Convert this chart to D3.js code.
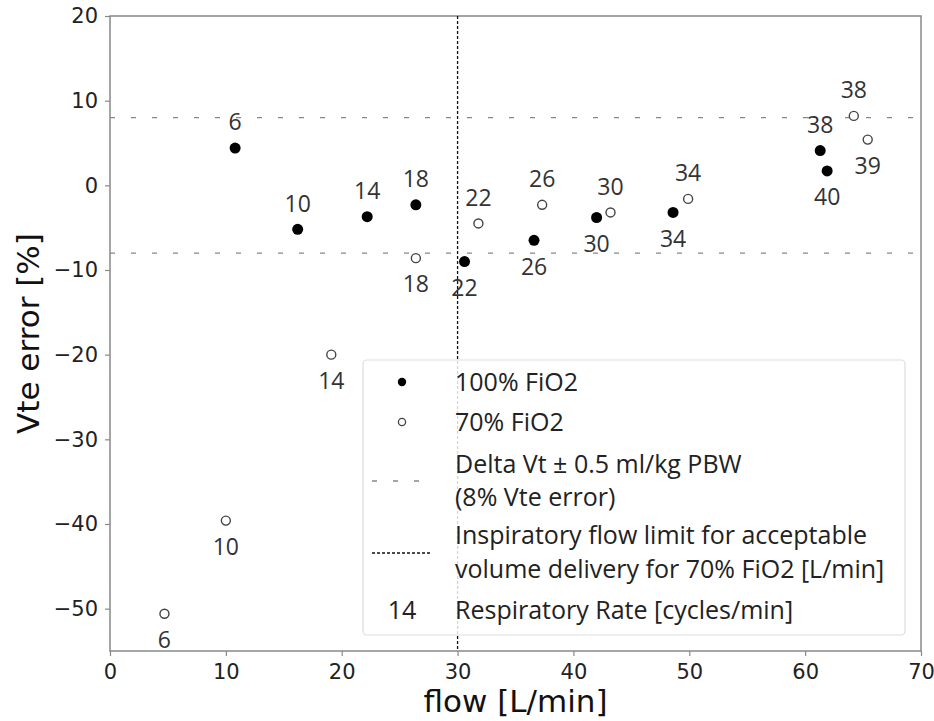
<!DOCTYPE html>
<html>
<head>
<meta charset="utf-8">
<script src="https://cdn.jsdelivr.net/npm/d3@7"></script>
<style>
  body { margin: 0; background: #fff; }
  svg { display: block; }
</style>
</head>
<body>
<div id="chart"></div>
<script>
// data
const rr100   = [6, 10, 14, 18, 22, 26, 30, 34, 38, 40];
const flow100 = [10.8, 16.2, 22.2, 26.4, 30.6, 36.6, 42.0, 48.6, 61.3, 61.9];
const err100  = [4.4, -5.2, -3.7, -2.3, -9.0, -6.5, -3.8, -3.2, 4.1, 1.7];
const side100 = [1, 1, 1, 1, -1, -1, -1, -1, 1, -1];   // 1 = label above point

const rr70   = [6, 10, 14, 18, 22, 26, 30, 34, 38, 39];
const flow70 = [4.7, 10.0, 19.1, 26.4, 31.8, 37.3, 43.2, 49.9, 64.2, 65.4];
const err70  = [-50.6, -39.6, -20.0, -8.6, -4.5, -2.3, -3.2, -1.6, 8.2, 5.4];
const side70 = [-1, -1, -1, -1, 1, 1, 1, 1, 1, -1];

const errLimit = 8;        // +/- 8 % Vte error
const flowLimit = 30;      // L/min
const xTicks = [0, 10, 20, 30, 40, 50, 60, 70];
const yTicks = [-50, -40, -30, -20, -10, 0, 10, 20];

const W = 934, H = 721;
const margin = {top: 16, right: 13, bottom: 70, left: 110};

const svg = d3.select("#chart").append("svg")
  .attr("width", W).attr("height", H);

const x = d3.scaleLinear().domain([0, 70]).range([margin.left, W - margin.right]);
const y = d3.scaleLinear().domain([-55, 20]).range([H - margin.bottom, margin.top]);

const tickFont = "'DejaVu Sans', sans-serif";
const txtFont = "'Open Sans', sans-serif";

// axes
const xAxis = svg.append("g")
  .attr("transform", `translate(0,${y(-55)})`)
  .call(d3.axisBottom(x).tickValues(xTicks).tickSize(5).tickPadding(8));
const yAxis = svg.append("g")
  .attr("transform", `translate(${x(0)},0)`)
  .call(d3.axisLeft(y).tickValues(yTicks).tickSize(5).tickPadding(7)
    .tickFormat(d => d < 0 ? "\u2212" + Math.abs(d) : d));

[xAxis, yAxis].forEach(a => {
  a.select(".domain").remove();
  a.selectAll(".tick line").attr("stroke", "#888").attr("stroke-width", 1.2);
  a.selectAll(".tick text")
    .attr("fill", "#222")
    .style("font-family", tickFont)
    .style("font-size", "21px");
});

// frame
svg.append("rect")
  .attr("x", x(0)).attr("y", y(20))
  .attr("width", x(70) - x(0)).attr("height", y(-55) - y(20))
  .attr("fill", "none").attr("stroke", "#888").attr("stroke-width", 1.5);

// axis labels
svg.append("text")
  .attr("x", (x(0) + x(70)) / 2).attr("y", 712)
  .attr("text-anchor", "middle")
  .style("font-family", tickFont).style("font-size", "31px").attr("fill", "#111")
  .text("flow [L/min]");

svg.append("text")
  .attr("transform", `translate(39,${(y(20) + y(-55)) / 2}) rotate(-90)`)
  .attr("text-anchor", "middle")
  .style("font-family", tickFont).style("font-size", "31px").attr("fill", "#111")
  .text("Vte error [%]");

// +/- 8 % lines
svg.selectAll(".hlim")
  .data([errLimit, -errLimit])
  .join("line")
  .attr("class", "hlim")
  .attr("x1", x(0)).attr("x2", x(70))
  .attr("y1", d => y(d)).attr("y2", d => y(d))
  .attr("stroke", "#888").attr("stroke-width", 1.3)
  .attr("stroke-dasharray", "5,16");

// flow limit line
svg.append("line")
  .attr("x1", x(flowLimit)).attr("x2", x(flowLimit))
  .attr("y1", y(20)).attr("y2", y(-55))
  .attr("stroke", "#111").attr("stroke-width", 1.3)
  .attr("stroke-dasharray", "3,2");

// points
const d100 = rr100.map((r, i) => ({rr: r, flow: flow100[i], err: err100[i], side: side100[i]}));
const d70 = rr70.map((r, i) => ({rr: r, flow: flow70[i], err: err70[i], side: side70[i]}));

svg.selectAll(".p100")
  .data(d100)
  .join("circle")
  .attr("class", "p100")
  .attr("cx", d => x(d.flow)).attr("cy", d => y(d.err))
  .attr("r", 5.5).attr("fill", "#000");

svg.selectAll(".p70")
  .data(d70)
  .join("circle")
  .attr("class", "p70")
  .attr("cx", d => x(d.flow)).attr("cy", d => y(d.err))
  .attr("r", 4.5).attr("fill", "#fff")
  .attr("stroke", "#444").attr("stroke-width", 1.4);

// respiratory rate labels
svg.selectAll(".lab")
  .data(d100.concat(d70))
  .join("text")
  .attr("class", "lab")
  .attr("x", d => x(d.flow))
  .attr("y", d => y(d.err) - d.side * 26)
  .attr("dy", "0.36em")
  .attr("text-anchor", "middle")
  .style("font-family", txtFont).style("font-size", "23px")
  .attr("fill", "#333")
  .text(d => d.rr);

// legend
const lg = svg.append("g");
lg.append("rect")
  .attr("x", 363).attr("y", 360)
  .attr("width", 542).attr("height", 275)
  .attr("rx", 4)
  .attr("fill", "#fff").attr("fill-opacity", 0.82)
  .attr("stroke", "#ddd").attr("stroke-width", 1.2);

const lx = 402, tx = 455;
lg.append("circle").attr("cx", lx).attr("cy", 382).attr("r", 4.2).attr("fill", "#000");
lg.append("circle").attr("cx", lx).attr("cy", 422).attr("r", 3.6)
  .attr("fill", "#fff").attr("stroke", "#444").attr("stroke-width", 1.3);
lg.append("line").attr("x1", 372).attr("x2", 421).attr("y1", 481).attr("y2", 481)
  .attr("stroke", "#888").attr("stroke-width", 1.3).attr("stroke-dasharray", "5,16");
lg.append("line").attr("x1", 372).attr("x2", 432).attr("y1", 553).attr("y2", 553)
  .attr("stroke", "#111").attr("stroke-width", 1.3).attr("stroke-dasharray", "3,2");
lg.append("text").attr("x", lx).attr("y", 610).attr("dy", "0.36em")
  .attr("text-anchor", "middle")
  .style("font-family", txtFont).style("font-size", "25px").attr("fill", "#222")
  .text("14");

const legendLines = [
  ["100% FiO2", 382],
  ["70% FiO2", 422],
  ["Delta Vt \u00b1 0.5 ml/kg PBW", 464],
  ["(8% Vte error)", 497],
  ["Inspiratory flow limit for acceptable", 535],
  ["volume delivery for 70% FiO2 [L/min]", 569],
  ["Respiratory Rate [cycles/min]", 610]
];
lg.selectAll(".lt")
  .data(legendLines)
  .join("text")
  .attr("class", "lt")
  .attr("x", tx).attr("y", d => d[1]).attr("dy", "0.36em")
  .style("font-family", txtFont).style("font-size", "25px").attr("fill", "#222")
  .text(d => d[0]);
</script>
</body>
</html>
